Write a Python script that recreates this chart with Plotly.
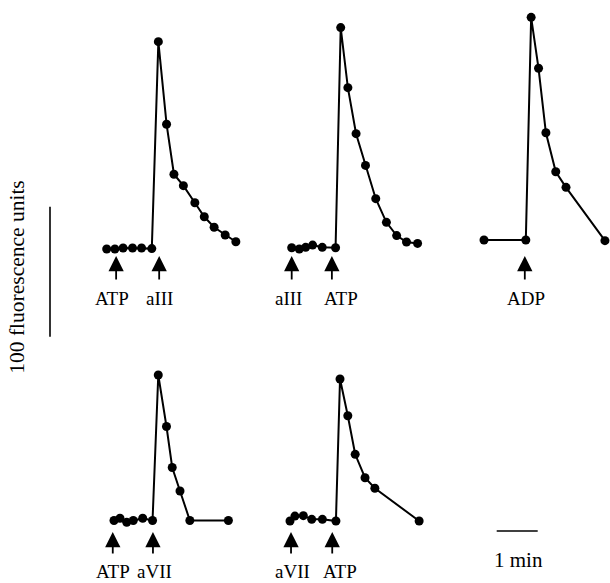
import plotly.graph_objects as go

# ---------------- data (time in min, fluorescence in units above baseline) ----------------
p1_t = [0, 0.20, 0.40, 0.63, 0.85, 1.10, 1.26, 1.46, 1.64, 1.87, 2.15, 2.38, 2.62, 2.89, 3.15]
p1_f = [0, 0, 0.8, 0.8, 0.8, 0.3, 159.5, 96, 57.5, 48.7, 35.6, 24.8, 16.7, 10.8, 5.6]
p1_events = [0.23, 1.28]
p1_labels = ["ATP", "aIII"]

p2_t = [0, 0.185, 0.34, 0.51, 0.745, 1.07, 1.195, 1.37, 1.57, 1.80, 2.05, 2.31, 2.56, 2.80, 3.07]
p2_f = [0, -1, 0.3, 2.0, 0.3, 0, 169.3, 123.1, 87.7, 63.3, 37.7, 19.5, 9.3, 4.4, 3.3]
p2_events = [0.0, 0.98]
p2_labels = ["aIII", "ATP"]

p3_t = [0, 1.02, 1.15, 1.33, 1.51, 1.75, 2.0, 2.95]
p3_f = [0, 0, 171.3, 132.1, 82.5, 52.5, 40.5, -0.5]
p3_events = [0.995]
p3_labels = ["ADP"]

p4_t = [0, 0.146, 0.31, 0.47, 0.70, 0.94, 1.08, 1.28, 1.42, 1.61, 1.85, 2.79]
p4_f = [0, 1.7, -1.4, 0, 1.7, 0, 111.9, 72.3, 40.8, 22.7, 0, 0]
p4_events = [-0.03, 0.95]
p4_labels = ["ATP", "aVII"]

p5_t = [0, 0.12, 0.325, 0.53, 0.79, 1.12, 1.22, 1.41, 1.59, 1.83, 2.07, 3.15]
p5_f = [0, 3.8, 4.1, 1.3, 1.3, 0, 109.2, 81, 51.3, 33.3, 25.2, 0]
p5_events = [0.025, 1.03]
p5_labels = ["aVII", "ATP"]

scale_units = 100   # vertical scale bar, fluorescence units
scale_minutes = 1   # horizontal scale bar, min

# ---------------- layout constants ----------------
W, H = 610, 583
PX_PER_MIN = 41.0
PX_PER_UNIT = 1.3
FONT = "Liberation Serif"

panels = [
    dict(t=p1_t, f=p1_f, ev=p1_events, lab=p1_labels, shift=[-4, 0], origin=(106.7, 249.0), row=0),
    dict(t=p2_t, f=p2_f, ev=p2_events, lab=p2_labels, shift=[-3, 9], origin=(291.7, 247.7), row=0),
    dict(t=p3_t, f=p3_f, ev=p3_events, lab=p3_labels, shift=[1], origin=(484.0, 240.0), row=0),
    dict(t=p4_t, f=p4_f, ev=p4_events, lab=p4_labels, shift=[0, 2], origin=(114.0, 520.5), row=1),
    dict(t=p5_t, f=p5_f, ev=p5_events, lab=p5_labels, shift=[1, 8], origin=(290.0, 521.0), row=1),
]
# pixel levels for arrow tip, arrow tail, label centre per row
row_levels = [(256, 281, 298), (532, 555, 571)]

fig = go.Figure()
layout = dict(width=W, height=H, margin=dict(l=0, r=0, t=0, b=0),
              paper_bgcolor="white", plot_bgcolor="rgba(0,0,0,0)",
              showlegend=False)
annotations = []

for i, p in enumerate(panels, 1):
    ox, oy = p["origin"]
    left, right = max(0, ox - 25), min(W, ox + 140)
    top, bottom = max(0, oy - 250), min(H, oy + 62)
    sfx = "" if i == 1 else str(i)
    layout["xaxis" + sfx] = dict(domain=[left / W, right / W],
                                 range=[(left - ox) / PX_PER_MIN, (right - ox) / PX_PER_MIN],
                                 visible=False, anchor="y" + sfx, fixedrange=True)
    layout["yaxis" + sfx] = dict(domain=[1 - bottom / H, 1 - top / H],
                                 range=[(oy - bottom) / PX_PER_UNIT, (oy - top) / PX_PER_UNIT],
                                 visible=False, anchor="x" + sfx, fixedrange=True)
    fig.add_trace(go.Scatter(x=p["t"], y=p["f"], xaxis="x" + sfx, yaxis="y" + sfx,
                             mode="lines+markers", cliponaxis=False, hoverinfo="skip",
                             line=dict(color="black", width=2),
                             marker=dict(color="black", size=9)))
    tip, tail, lab = row_levels[p["row"]]
    for ev, text, sh in zip(p["ev"], p["lab"], p["shift"]):
        annotations.append(dict(x=ev, y=(oy - tip) / PX_PER_UNIT,
                                ax=ev, ay=(oy - tail) / PX_PER_UNIT,
                                xref="x" + sfx, yref="y" + sfx,
                                axref="x" + sfx, ayref="y" + sfx,
                                text="", showarrow=True, arrowhead=2,
                                arrowsize=1.7, arrowwidth=1.8, arrowcolor="black"))
        annotations.append(dict(x=ev, y=(oy - lab) / PX_PER_UNIT, xshift=sh,
                                xref="x" + sfx, yref="y" + sfx,
                                xanchor="center", yanchor="middle",
                                text=text, showarrow=False,
                                font=dict(family=FONT, size=19, color="black")))

# overlay axis for scale bars (same scale, origin at bottom-left corner)
layout["xaxis6"] = dict(domain=[0, 1], range=[0, W / PX_PER_MIN], visible=False,
                        anchor="y6", fixedrange=True)
layout["yaxis6"] = dict(domain=[0, 1], range=[0, H / PX_PER_UNIT], visible=False,
                        anchor="x6", fixedrange=True)
vx = 50 / PX_PER_MIN
vy0 = (H - 336.7) / PX_PER_UNIT
fig.add_trace(go.Scatter(x=[vx, vx], y=[vy0, vy0 + scale_units], xaxis="x6", yaxis="y6",
                         mode="lines", hoverinfo="skip", line=dict(color="black", width=1.6)))
hx0 = 496.7 / PX_PER_MIN
hy = (H - 531) / PX_PER_UNIT
fig.add_trace(go.Scatter(x=[hx0, hx0 + scale_minutes], y=[hy, hy], xaxis="x6", yaxis="y6",
                         mode="lines", hoverinfo="skip", line=dict(color="black", width=1.6)))

annotations.append(dict(x=16.7 / W, y=1 - 277 / H, xref="paper", yref="paper",
                        xanchor="center", yanchor="middle",
                        text=f"{scale_units} fluorescence units", textangle=-90,
                        showarrow=False, font=dict(family=FONT, size=21.5, color="black")))
annotations.append(dict(x=518 / W, y=1 - 560 / H, xref="paper", yref="paper",
                        xanchor="center", yanchor="middle",
                        text=f"{scale_minutes} min", showarrow=False,
                        font=dict(family=FONT, size=21, color="black")))

layout["annotations"] = annotations
fig.update_layout(**layout)
fig.write_html("out.html", config={"displayModeBar": False},
               post_script="document.body.style.margin='0';document.body.style.overflow='hidden';")
